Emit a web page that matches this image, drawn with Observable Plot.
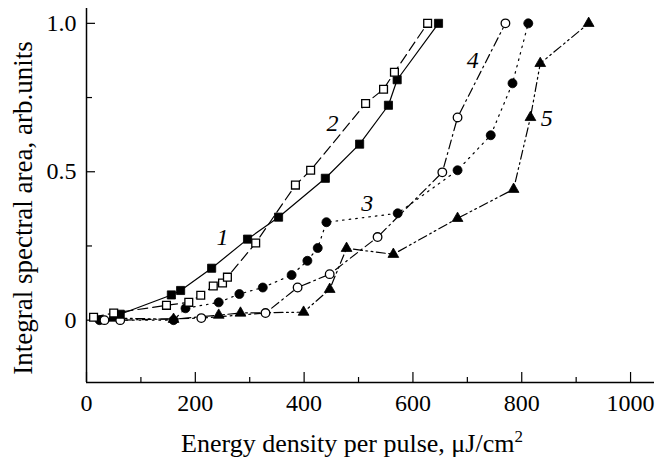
<!DOCTYPE html>
<html><head><meta charset="utf-8">
<script src="https://cdn.jsdelivr.net/npm/d3@7"></script>
<script src="https://cdn.jsdelivr.net/npm/@observablehq/plot@0.6"></script>
<style>
body{margin:0;background:#fff}
svg, svg g, svg text{font-family:"Liberation Serif","Times New Roman",serif !important}
</style>
</head><body><div id="chart"></div>
<script>
// Series 1: filled squares, solid line
const s1x = [62, 156, 173, 230, 296, 353, 439, 502, 555, 571, 647];
const s1y = [0.02, 0.085, 0.10, 0.175, 0.273, 0.347, 0.478, 0.593, 0.724, 0.81, 1.0];
// Series 2: open squares, dashed line
const s2x = [13, 50, 147, 188, 210, 233, 250, 259, 311, 384, 412, 513, 546, 566, 627];
const s2y = [0.01, 0.024, 0.05, 0.06, 0.084, 0.115, 0.125, 0.145, 0.26, 0.455, 0.505, 0.73, 0.778, 0.835, 1.0];
// Series 3: filled circles, dotted line
const s3x = [24, 160, 182, 243, 281, 324, 377, 406, 425, 441, 572, 682, 743, 783, 812];
const s3y = [0.0, 0.0, 0.04, 0.06, 0.088, 0.11, 0.152, 0.2, 0.243, 0.33, 0.36, 0.505, 0.623, 0.798, 1.0];
// Series 4: open circles, dash-dot line
const s4x = [33, 62, 211, 329, 388, 447, 535, 654, 682, 770];
const s4y = [0.0, 0.0, 0.007, 0.024, 0.11, 0.155, 0.28, 0.498, 0.683, 1.0];
// Series 5: filled triangles, dash-dot-dot line
const s5x = [48, 160, 243, 283, 399, 447, 478, 564, 682, 785, 816, 834, 923];
const s5y = [0.007, 0.003, 0.017, 0.024, 0.027, 0.104, 0.242, 0.222, 0.343, 0.441, 0.683, 0.865, 1.0];

// Curve labels
const labelText = ["1", "2", "3", "4", "5"];
const labelX = [250, 452, 516, 710, 846];
const labelY = [0.28, 0.664, 0.394, 0.875, 0.68];

// Axis ticks
const xMajor = [0, 200, 400, 600, 800, 1000];
const xMinor = [100, 300, 500, 700, 900];
const yMajor = [0, 0.5, 1.0];
const yMinor = [0.25, 0.75];
const xTitle = "Energy density per pulse, μJ/cm";
const xTitleSup = "2";
const yTitle = "Integral spectral area, arb.units";

const xDomain = [0, 1044];
const yDomain = [-0.21, 1.05];

const mk = (xs, ys) => xs.map((x, i) => ({x, y: ys[i]}));
const d1 = mk(s1x, s1y), d2 = mk(s2x, s2y), d3_ = mk(s3x, s3y), d4 = mk(s4x, s4y), d5 = mk(s5x, s5y);
const labels = labelText.map((t, i) => ({t, x: labelX[i], y: labelY[i]}));

// tick lengths in px, converted to data units
const W = 656, H = 460, ML = 86, MR = 2, MT = 8, MB = 78;
const pxPerX = (W - ML - MR) / (xDomain[1] - xDomain[0]);
const pxPerY = (H - MT - MB) / (yDomain[1] - yDomain[0]);

const FONT = "Liberation Serif";
const sw = 1.2;
const lineOpts = {x: "x", y: "y", stroke: "black", strokeWidth: sw};
const chart = Plot.plot({
  width: W, height: H,
  marginLeft: ML, marginRight: MR, marginTop: MT, marginBottom: MB,
  style: {fontFamily: FONT, fontSize: "24px", background: "white"},
  x: {domain: xDomain},
  y: {domain: yDomain},
  marks: [
    Plot.ruleX([0], {y1: yDomain[0], y2: yDomain[1], stroke: "black", strokeWidth: 1.5}),
    Plot.ruleY([yDomain[0]], {x1: xDomain[0], x2: xDomain[1], stroke: "black", strokeWidth: 1.5}),
    Plot.ruleX(xMajor, {x: d => d, y1: yDomain[0], y2: yDomain[0] + 10 / pxPerY, stroke: "black", strokeWidth: 1.2}),
    Plot.ruleX(xMinor, {x: d => d, y1: yDomain[0], y2: yDomain[0] + 5 / pxPerY, stroke: "black", strokeWidth: 1.2}),
    Plot.ruleY(yMajor, {y: d => d, x1: 0, x2: 9 / pxPerX, stroke: "black", strokeWidth: 1.2}),
    Plot.ruleY(yMinor, {y: d => d, x1: 0, x2: 6 / pxPerX, stroke: "black", strokeWidth: 1.2}),
    Plot.axisX({ticks: xMajor, tickSize: 0, tickPadding: 11, label: null, fontSize: 24, fontFamily: FONT, fill: "black", tickFormat: d => String(d)}),
    Plot.axisY({ticks: yMajor, tickSize: 0, tickPadding: 10, label: null, fontSize: 24, fontFamily: FONT, fill: "black", tickFormat: d => d === 0 ? "0" : d.toFixed(1)}),
    Plot.line(d1, {...lineOpts}),
    Plot.line(d2, {...lineOpts, strokeDasharray: "10,5"}),
    Plot.line(d3_, {...lineOpts, strokeDasharray: "1.6,5"}),
    Plot.line(d4, {...lineOpts, strokeDasharray: "9,4,1.8,4"}),
    Plot.line(d5, {...lineOpts, strokeDasharray: "9,3.5,1.8,3.5,1.8,3.5"}),
    Plot.dot(d5, {x: "x", y: "y", symbol: "triangle", r: 4, fill: "black", stroke: "black", strokeWidth: 0.8}),
    Plot.dot(d3_, {x: "x", y: "y", symbol: "circle", r: 4.5, fill: "black", stroke: "black", strokeWidth: 0.8}),
    Plot.dot(d4, {x: "x", y: "y", symbol: "circle", r: 4.3, fill: "white", stroke: "black", strokeWidth: 1.3}),
    Plot.dot(d1, {x: "x", y: "y", symbol: "square", r: 4.6, fill: "black", stroke: "black", strokeWidth: 0.8}),
    Plot.dot(d2, {x: "x", y: "y", symbol: "square", r: 4.4, fill: "white", stroke: "black", strokeWidth: 1.3}),
    Plot.text(labels, {x: "x", y: "y", text: "t", fontStyle: "italic", fontSize: 24, fontFamily: FONT, fill: "black"})
  ]
});
document.getElementById("chart").appendChild(chart);

// Axis titles (real text), with superscript
const svg = d3.select(chart);
const tx = svg.append("text")
  .attr("x", 352).attr("y", 452)
  .attr("text-anchor", "middle")
  .attr("font-family", FONT).attr("font-size", 26).attr("fill", "black");
tx.append("tspan").text(xTitle);
tx.append("tspan").attr("dy", -10).attr("font-size", 17).text(xTitleSup);
svg.append("text")
  .attr("transform", "translate(32,208) rotate(-90)")
  .attr("text-anchor", "middle")
  .attr("font-family", FONT).attr("font-size", 27).attr("fill", "black")
  .text(yTitle);
</script></body></html>
